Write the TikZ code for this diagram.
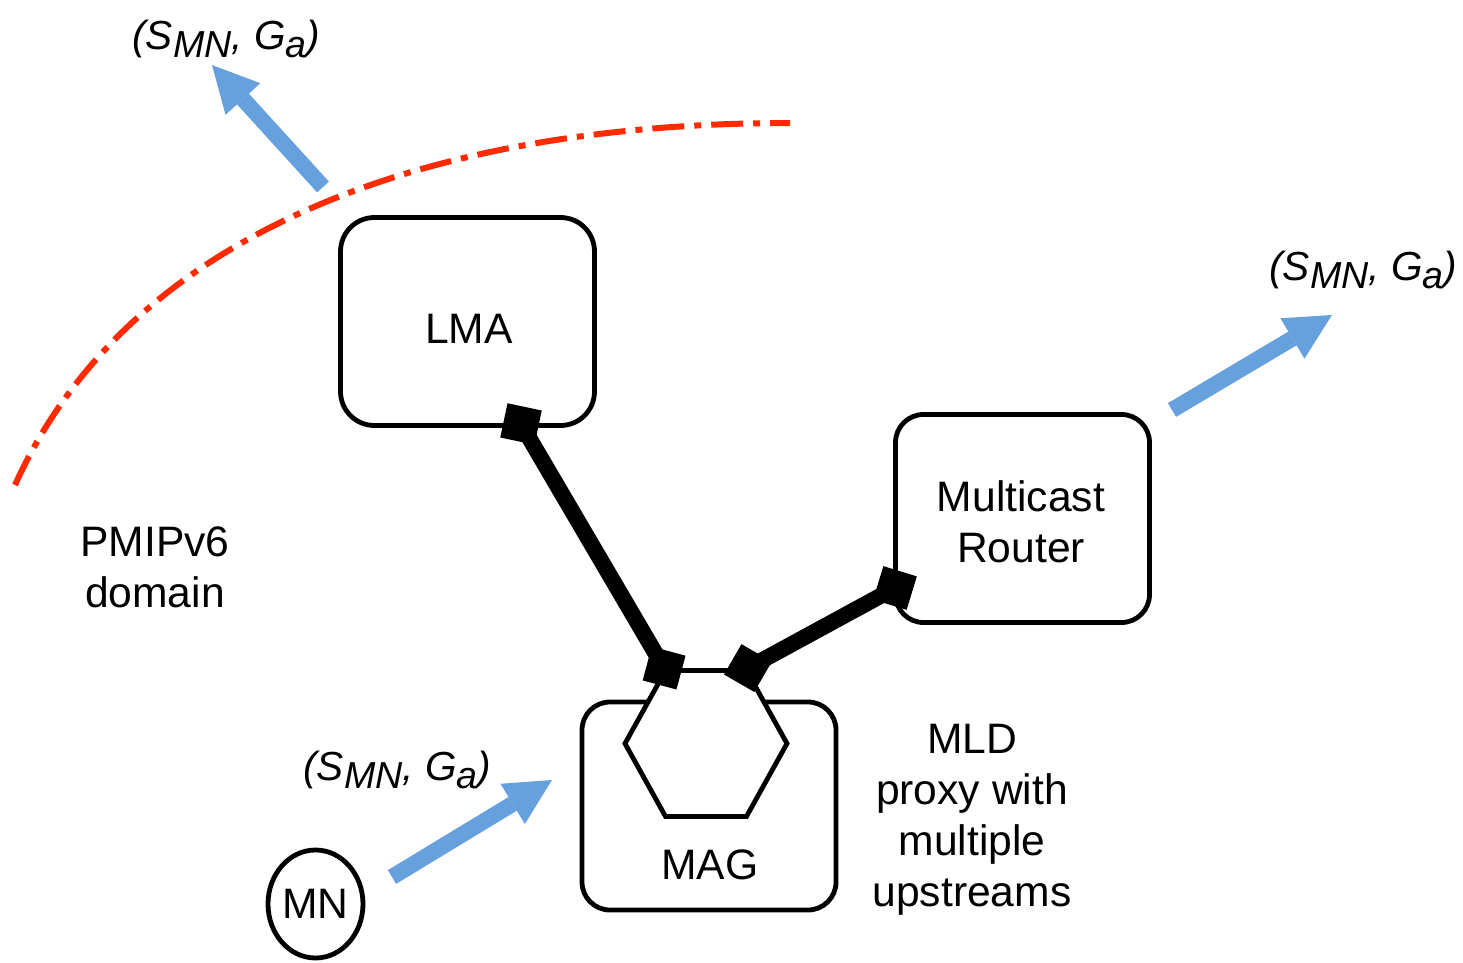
\documentclass[tikz,border=0pt]{standalone}
\usepackage{fontspec}
\setmainfont{Liberation Sans}
\usetikzlibrary{shapes.geometric,arrows.meta,calc}

\definecolor{flowblue}{RGB}{102,161,221}
\definecolor{domainred}{RGB}{255,42,0}

\newcommand{\lowsub}[1]{\raisebox{-4pt}{\fontsize{18.8pt}{21pt}\selectfont #1}}

\tikzset{every picture/.style={line width=2.4pt},
  entity/.style={draw, fill=white, rounded corners=14pt, minimum width=127pt, minimum height=104pt},
  port/.style={fill=black, minimum size=17.5pt, inner sep=0pt},
  link/.style={line width=8pt},
  flow/.style={draw=flowblue, line width=8pt, -{Triangle[length=23pt,width=23.5pt,line width=0pt]}},
  boundary/.style={draw=domainred, line width=3pt, dash pattern=on 16pt off 5pt on 3.5pt off 5pt},
  txt/.style={font=\fontsize{21.3pt}{25.5pt}\selectfont, align=center, inner sep=0pt},
  grp/.style={font=\fontsize{20.3pt}{25.5pt}\selectfont\itshape, inner sep=0pt, anchor=base west}
}

\begin{document}
\begin{tikzpicture}[x=0.5pt,y=0.5pt,yscale=-1]
	\useasboundingbox (0,0) rectangle (1463,963);

	%Curve: domain border
	\draw[boundary] (15,485) .. controls (130,230) and (430,123) .. (790,123);

	%Shape: Rounded Rect
	\node[entity, rounded corners=17pt] (lma) at (467.5,321.5) {};
	%Shape: Rounded Rect
	\node[entity] (mr) at (1022.5,518.5) {};
	%Shape: Rounded Rect
	\node[entity] (mag) at (709,806) {};
	%Shape: Hexagon
	\node[draw, fill=white, regular polygon, regular polygon sides=6, minimum size=81pt, inner sep=0pt, yscale=1.04] (mld) at (706,743.5) {};
	%Shape: Ellipse
	\node[draw, ellipse, minimum width=47.5pt, minimum height=54pt, inner sep=0pt, txt] (mn) at (315.5,904) {MN};

	%Ports
	\node[port, rotate=-12] (lmaport) at ($(lma.center)+(53.5,102.5)$) {};
	\node[port, rotate=-17] (mrport) at ($(mr.center)+(-127.5,69.5)$) {};
	\node[port, rotate=-15] (mldportl) at (mld.120) {};
	\node[port, rotate=-30] (mldportr) at (mld.60) {};

	%Straight Lines
	\draw[link] (lmaport.center) -- (mldportl.center);
	%Straight Lines
	\draw[link] (mldportr.center) -- (mrport.center);

	% Text Node
	\node[txt] (lmalabel) at (469,329) {LMA};
	% Text Node
	\node[txt] (mrlabel) at (1021,521.5) {Multicast\\Router};
	% Text Node
	\node[txt] (maglabel) at (710,865) {MAG};
	% Text Node
	\node[txt] (mldlabel) at (972,820) {MLD\\proxy with\\multiple\\upstreams};
	% Text Node
	\node[txt] (domainlabel) at (155,567) {PMIPv6\\domain};

	% Text Node
	\node[grp] (grptop) at (130,50) {(S\lowsub{MN}, G\lowsub{a})};
	% Text Node
	\node[grp] (grpright) at (1267,280) {(S\lowsub{MN}, G\lowsub{a})};
	% Text Node
	\node[grp] (grpmn) at (301,780) {(S\lowsub{MN}, G\lowsub{a})};

	%Arrows
	\coordinate (lmaout) at (323,187);
	\coordinate (lmaouttip) at (212,65);
	\coordinate (mrout) at (1172,410);
	\coordinate (mrouttip) at (1332,315);
	\coordinate (mnout) at (392,877);
	\coordinate (mnouttip) at (552,780);
	\draw[flow] (lmaout) -- (lmaouttip);
	\draw[flow] (mrout) -- (mrouttip);
	\draw[flow] (mnout) -- (mnouttip);

\end{tikzpicture}
\end{document}
